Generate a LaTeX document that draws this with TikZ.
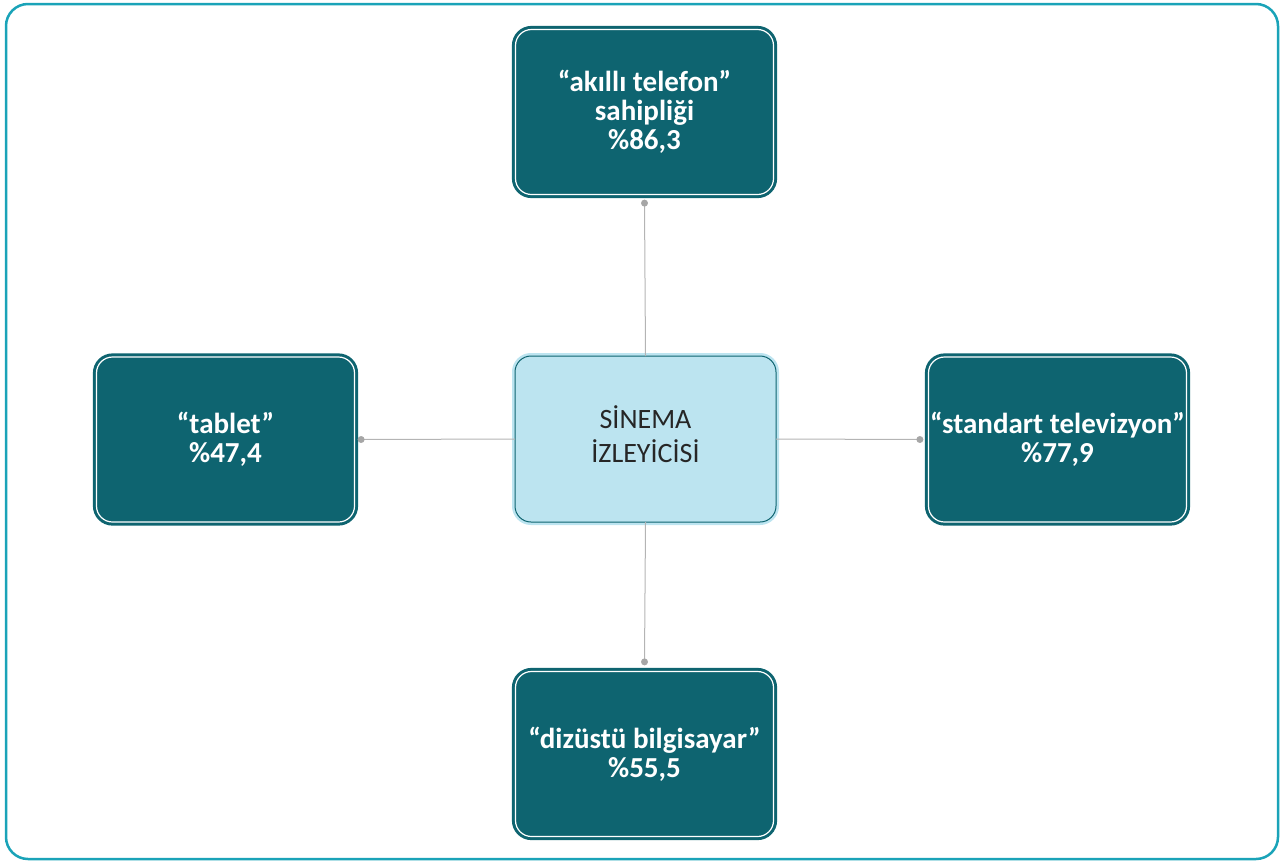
\documentclass[tikz,border=0pt]{standalone}
\usepackage{fontspec}
\setmainfont{Carlito}
\definecolor{frame}{HTML}{1AA3B8}
\definecolor{darkteal}{HTML}{0E6470}
\definecolor{lightbl}{HTML}{BCE4F0}
\definecolor{linegray}{HTML}{B4B4B4}
\definecolor{dotgray}{HTML}{A6A6A6}
\definecolor{txt}{HTML}{262626}
\begin{document}
\begin{tikzpicture}[x=1pt,y=-1pt,
  darkbox/.style={fill=darkteal, draw=darkteal, double=white, line width=3pt, double distance=1.2pt,
    rounded corners=16pt, minimum width=258pt, minimum height=165pt, inner sep=0pt, outer sep=0pt,
    align=center, text=white, font=\fontsize{29}{29}\selectfont\bfseries},
  centerbox/.style={fill=lightbl, draw=lightbl, double=darkteal, line width=2.5pt, double distance=1pt,
    rounded corners=16pt, minimum width=261pt, minimum height=166pt, inner sep=0pt, outer sep=0pt,
    align=center, text=txt, font=\fontsize{28}{34}\selectfont},
  conn/.style={draw=linegray, line width=1pt},
  dot/.style={fill=dotgray, draw=none}]
\useasboundingbox (0,0) rectangle (1287,863);
\draw[frame, line width=2.5pt, rounded corners=22pt] (6,4) rectangle (1278,859);

\node[darkbox] (top) at (644.5,112) {“akıllı telefon”\\sahipliği\\\%86,3};
\node[centerbox] (mid) at (645.5,439) {};
\node[align=center, text=txt, font=\fontsize{28}{34}\selectfont, inner sep=0pt] (midtxt) at (645.5,434) {SİNEMA\\İZLEYİCİSİ};
\node[darkbox] (left) at (225.5,439.5) {“tablet”\\\%47,4};
\node[darkbox] (right) at (1057.5,439.5) {“standart televizyon”\\\%77,9};
\node[darkbox] (bot) at (644.5,754) {“dizüstü bilgisayar”\\\%55,5};

\coordinate (ctop) at ([yshift=-8.6pt]top.south);
\coordinate (cleft) at ([xshift=6.6pt]left.east);
\coordinate (cright) at ([xshift=-8.6pt]right.west);
\coordinate (cbot) at ([yshift=9.6pt]bot.north);

\draw[conn] (mid.north) -- (ctop);
\draw[conn] (mid.west) -- (cleft);
\draw[conn] (mid.east) -- (cright);
\draw[conn] (mid.south) -- (cbot);
\foreach \c in {ctop,cleft,cright,cbot} \fill[dot] (\c) circle (3.5pt);
\end{tikzpicture}
\end{document}
